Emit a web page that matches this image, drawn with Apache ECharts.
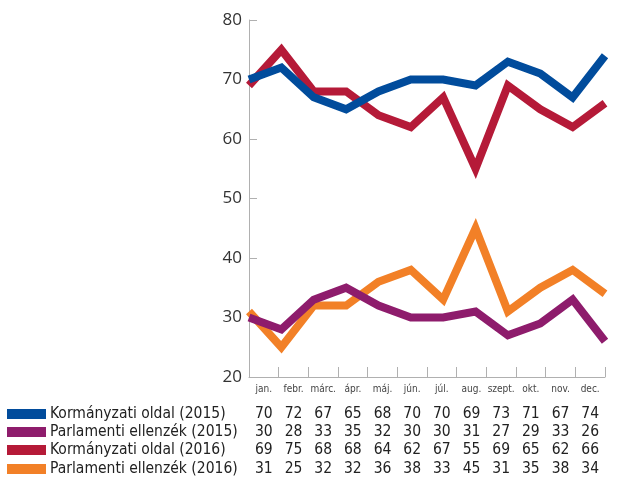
<!DOCTYPE html>
<html>
<head>
<meta charset="utf-8">
<script src="https://cdn.jsdelivr.net/npm/echarts@6/dist/echarts.min.js"></script>
<style>
  html, body { margin: 0; padding: 0; background: #fff; }
  #chart { width: 625px; height: 477px; }
</style>
</head>
<body>
<div id="chart"></div>
<script>
const months = ['jan.', 'febr.', 'márc.', 'ápr.', 'máj.', 'jún.', 'júl.', 'aug.', 'szept.', 'okt.', 'nov.', 'dec.'];

const seriesNames = [
  'Kormányzati oldal (2015)',
  'Parlamenti ellenzék (2015)',
  'Kormányzati oldal (2016)',
  'Parlamenti ellenzék (2016)'
];
const kormany2015 = [70, 72, 67, 65, 68, 70, 70, 69, 73, 71, 67, 74];
const ellenzek2015 = [30, 28, 33, 35, 32, 30, 30, 31, 27, 29, 33, 26];
const kormany2016 = [69, 75, 68, 68, 64, 62, 67, 55, 69, 65, 62, 66];
const ellenzek2016 = [31, 25, 32, 32, 36, 38, 33, 45, 31, 35, 38, 34];
const seriesData = [kormany2015, ellenzek2015, kormany2016, ellenzek2016];
const colors = ['#014c9c', '#8e1c6c', '#b51a38', '#f28027'];
// drawing order: 2016 below, 2015 above
const zOrder = [4, 4, 3, 3];

const chart = echarts.init(document.getElementById('chart'));
const textFont = '"Liberation Sans Narrow", "DejaVu Sans Condensed", sans-serif';

const option = {
  animation: false,
  grid: { left: 249, right: 20, top: 20, bottom: 100 },
  xAxis: [
    {
      type: 'category',
      data: months,
      boundaryGap: true,
      axisLine: { show: true, lineStyle: { color: '#b0b0b0', width: 1 } },
      axisTick: { show: true, inside: true, length: 10, interval: 0, alignWithLabel: false, lineStyle: { color: '#b0b0b0', width: 1 } },
      axisLabel: { color: '#444', fontSize: 10, fontFamily: textFont, margin: 7, interval: 0 },
      splitLine: { show: false }
    },
    {
      type: 'category',
      data: months,
      boundaryGap: false,
      position: 'bottom',
      show: false
    }
  ],
  yAxis: {
    type: 'value',
    min: 20,
    max: 80,
    interval: 10,
    axisLine: { show: true, lineStyle: { color: '#b0b0b0', width: 1 } },
    axisTick: { show: true, inside: true, length: 8, lineStyle: { color: '#b0b0b0' } },
    axisLabel: { color: '#333', fontSize: 17, fontFamily: '"Open Sans", sans-serif', margin: 7 },
    splitLine: { show: false }
  },
  series: seriesNames.map((name, i) => ({
    name: name,
    type: 'line',
    xAxisIndex: 1,
    data: seriesData[i],
    symbol: 'none',
    z: zOrder[i],
    lineStyle: { color: colors[i], width: 8, join: 'miter', miterLimit: 10, cap: 'butt' }
  }))
};

chart.setOption(option);

// table under the chart: legend swatches, names and monthly values
const rowY = [414, 432, 450, 469];
const graphics = [];
seriesNames.forEach((name, i) => {
  graphics.push({
    type: 'rect',
    shape: { x: 7, y: rowY[i] - 5, width: 39, height: 10 },
    style: { fill: colors[i] }
  });
  graphics.push({
    type: 'text',
    x: 50,
    y: rowY[i],
    style: { text: name, fill: '#222', fontSize: 15.5, fontFamily: textFont, verticalAlign: 'middle', align: 'left' }
  });
  seriesData[i].forEach((v, j) => {
    const px = chart.convertToPixel({ xAxisIndex: 0 }, months[j]);
    graphics.push({
      type: 'text',
      x: px,
      y: rowY[i],
      style: { text: String(v), fill: '#222', fontSize: 15.5, fontFamily: textFont, verticalAlign: 'middle', align: 'center' }
    });
  });
});
chart.setOption({ graphic: graphics });
</script>
</body>
</html>
